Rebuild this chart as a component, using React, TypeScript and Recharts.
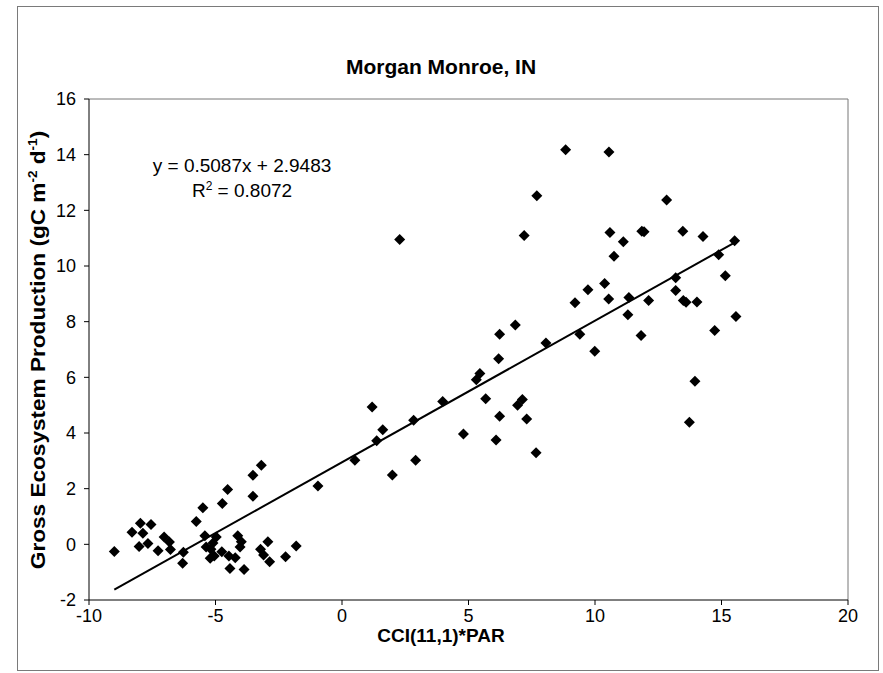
import React from "react";
import { ScatterChart, Scatter, XAxis, YAxis, ReferenceLine } from "recharts";

// CCI(11,1)*PAR values (x) and gross ecosystem production (y)
const cciPar = [
  8.84, 10.55, 7.7, 12.83, 2.28, 7.2, 10.59, 11.85, 11.94, 13.47, 14.27, 15.52,
  11.12, 10.75, 14.89, 15.15, 13.19, 13.19, 10.38, 9.72, 9.21, 10.54, 11.34, 12.12,
  13.49, 13.6, 14.03, 15.57, 11.3, 9.4, 11.82, 14.73, 9.99, 13.95, 13.73,
  8.06, 6.85, 6.23, 6.19, 5.45, 5.31, 5.68, 3.98, 7.13, 6.94, 6.23, 7.3, 2.83,
  1.19, 1.61, 1.37, 4.8, 6.09, 0.51, 2.91, 1.99, 7.67, -0.95,
  -3.19, -3.52, -4.52, -3.52, -4.73, -5.5, -5.76, -9.0, -8.3, -7.97, -7.55, -7.87,
  -8.02, -7.67, -7.27, -7.03, -6.82, -6.78, -6.27, -6.3, -5.42, -4.97, -4.12, -3.98,
  -2.93, -1.81, -5.37, -5.18, -5.05, -4.75, -4.47, -4.22, -3.22, -3.1, -2.86, -2.23,
  -4.43, -3.87, -4.03, -5.21, -5.1,
];
const gep = [
  14.18, 14.1, 12.52, 12.37, 10.95, 11.1, 11.2, 11.25, 11.23, 11.25, 11.06, 10.91,
  10.87, 10.35, 10.4, 9.65, 9.58, 9.12, 9.37, 9.15, 8.68, 8.81, 8.87, 8.76,
  8.76, 8.7, 8.71, 8.19, 8.25, 7.55, 7.5, 7.68, 6.94, 5.86, 4.39,
  7.23, 7.88, 7.55, 6.67, 6.14, 5.91, 5.23, 5.13, 5.2, 5.0, 4.6, 4.5, 4.46,
  4.93, 4.12, 3.72, 3.96, 3.75, 3.02, 3.02, 2.49, 3.29, 2.1,
  2.84, 2.48, 1.97, 1.73, 1.47, 1.31, 0.82, -0.26, 0.43, 0.76, 0.71, 0.4,
  -0.08, 0.03, -0.23, 0.26, 0.08, -0.19, -0.28, -0.68, 0.31, 0.26, 0.31, 0.09,
  0.09, -0.06, -0.1, -0.18, -0.42, -0.27, -0.42, -0.48, -0.18, -0.38, -0.63, -0.45,
  -0.87, -0.9, -0.1, -0.5, 0.05,
];
const xTicks = [-10, -5, 0, 5, 10, 15, 20];
const yTicks = [-2, 0, 2, 4, 6, 8, 10, 12, 14, 16];
const slope = 0.5087;
const intercept = 2.9483;
const rSquared = 0.8072;

const points = cciPar.map((x, i) => ({ x, y: gep[i] }));
const xMin = Math.min(...cciPar);
const xMax = Math.max(...cciPar);

const FONT = "'Liberation Sans', Arial, sans-serif";

// Excel style diamond marker
const Diamond = (props: any) => {
  const { cx, cy } = props;
  const r = 5.5;
  return (
    <polygon
      points={`${cx},${cy - r} ${cx + r},${cy} ${cx},${cy + r} ${cx - r},${cy}`}
      fill="#000"
    />
  );
};

const App = () => {
  return (
    <div style={{ position: "absolute", left: 0, top: 0, width: 883, height: 673, background: "#fff" }}>
      <div
        style={{
          position: "absolute",
          left: 17,
          top: 6,
          width: 860,
          height: 663,
          border: "1px solid #7a7a7a",
        }}
      />
      <ScatterChart width={883} height={673} margin={{ top: 99, right: 35, left: 0, bottom: 0 }}>
        <XAxis
          type="number"
          dataKey="x"
          domain={[-10, 20]}
          ticks={xTicks}
          height={73}
          stroke="#000"
          tickSize={5}
          tickMargin={4}
          tick={{ fill: "#000", fontSize: 18, fontFamily: FONT }}
        />
        <YAxis
          type="number"
          dataKey="y"
          domain={[-2, 16]}
          ticks={yTicks}
          width={89}
          stroke="#000"
          tickSize={5}
          tickMargin={8}
          tick={{ fill: "#000", fontSize: 18, fontFamily: FONT }}
        />
        <ReferenceLine y={16} stroke="#777" />
        <ReferenceLine x={20} stroke="#777" />
        <ReferenceLine
          segment={[
            { x: xMin, y: slope * xMin + intercept },
            { x: xMax, y: slope * xMax + intercept },
          ]}
          stroke="#000"
          strokeWidth={2}
        />
        <Scatter data={points} shape={Diamond} isAnimationActive={false} />
      </ScatterChart>
      <svg
        width={883}
        height={673}
        style={{ position: "absolute", left: 0, top: 0, pointerEvents: "none" }}
        fontFamily={FONT}
      >
        <text x={441} y={74} textAnchor="middle" fontSize={21} fontWeight="bold">
          Morgan Monroe, IN
        </text>
        <text x={242} y={172} textAnchor="middle" fontSize={19}>
          y = {slope}x + {intercept}
        </text>
        <text x={242} y={197} textAnchor="middle" fontSize={19}>
          R<tspan dy={-7} fontSize={12}>2</tspan>
          <tspan dy={7}> = {rSquared}</tspan>
        </text>
        <text x={441} y={642} textAnchor="middle" fontSize={19} fontWeight="bold">
          CCI(11,1)*PAR
        </text>
        <text
          transform="translate(45,350) rotate(-90) scale(1.13,1)"
          textAnchor="middle"
          fontSize={20}
          fontWeight="bold"
        >
          Gross Ecosystem Production (gC m<tspan dy={-8} fontSize={12}>-2</tspan>
          <tspan dy={8}> d</tspan>
          <tspan dy={-8} fontSize={12}>-1</tspan>
          <tspan dy={8}>)</tspan>
        </text>
      </svg>
    </div>
  );
};

export default App;
